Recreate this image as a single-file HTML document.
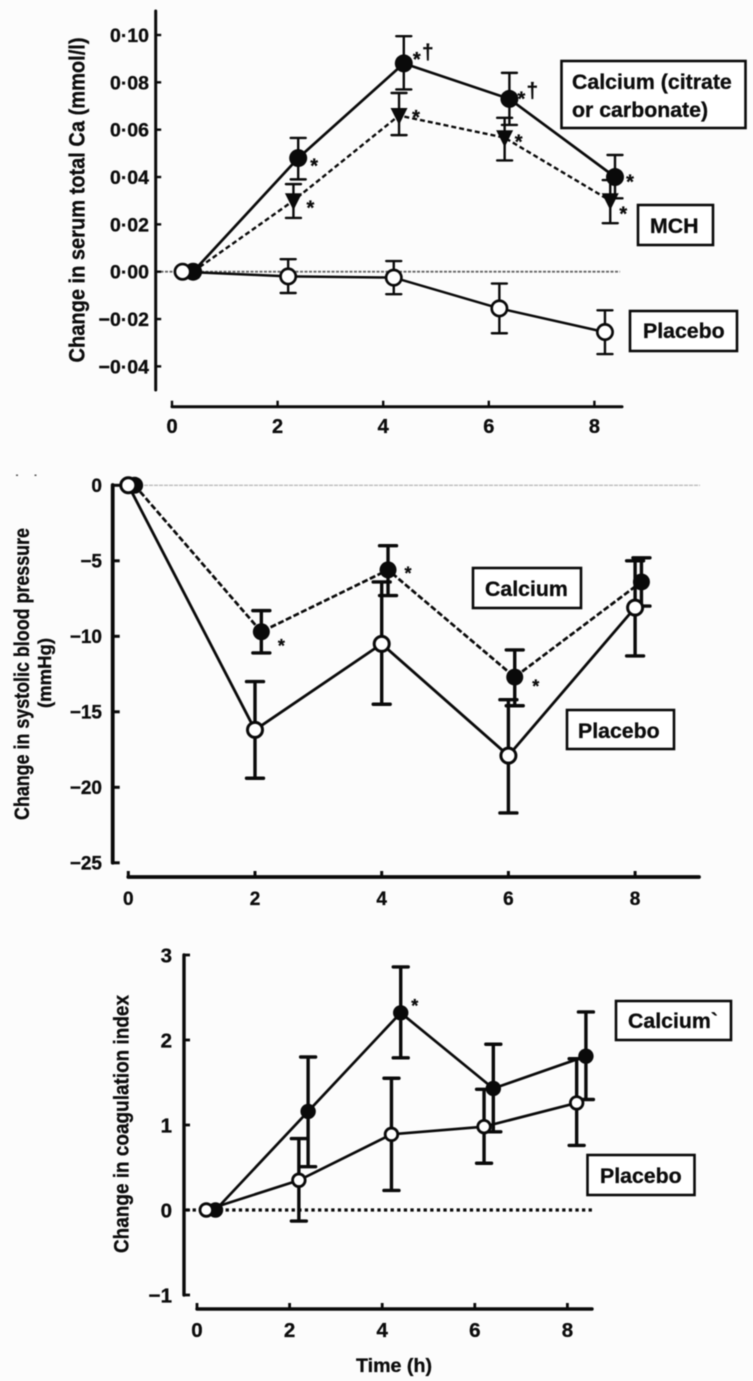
<!DOCTYPE html>
<html lang="en">
<head>
<meta charset="utf-8">
<title>Serum calcium, blood pressure and coagulation index over time</title>
<style>
html,body{margin:0;padding:0;background:#fcfcfc;}
body{width:753px;height:1381px;overflow:hidden;}
svg{display:block;filter:blur(0.55px);}
text{font-family:"Liberation Sans",sans-serif;font-weight:bold;fill:#0c0c0c;stroke:#0c0c0c;stroke-width:0.3px;}
</style>
</head>
<body>
<svg id="chart" xmlns="http://www.w3.org/2000/svg" width="753" height="1381" viewBox="0 0 753 1381">
<rect x="0" y="0" width="753" height="1381" fill="#fcfcfc"/>
<rect x="16" y="474.5" width="2" height="1.5" fill="#555"/>
<rect x="34.5" y="474.5" width="2" height="1.5" fill="#555"/>
</svg>
<script>
// ---------- Panel A: serum total Ca ----------
const caTicksY = [0.10, 0.08, 0.06, 0.04, 0.02, 0, -0.02, -0.04];
const caTickLabelsY = ['0·10', '0·08', '0·06', '0·04', '0·02', '0·00', '−0·02', '−0·04'];
const caTicksX = [0, 2, 4, 6, 8];
const caTimeCalcium = [0.4, 2.39, 4.39, 6.39, 8.39];
const caCalcium = [0, 0.048, 0.088, 0.073, 0.040];
const caCalciumHi = [0, 0.0565, 0.0995, 0.084, 0.0493];
const caCalciumLo = [0, 0.039, 0.077, 0.062, 0.031];
const caTimeMch = [0.4, 2.3, 4.3, 6.3, 8.3];
const caMch = [0, 0.030, 0.066, 0.0566, 0.030];
const caMchHi = [0, 0.037, 0.0755, 0.065, 0.0387];
const caMchLo = [0, 0.0227, 0.0577, 0.047, 0.0205];
const caTimePlacebo = [0.2, 2.2, 4.2, 6.2, 8.2];
const caPlacebo = [0, -0.002, -0.0025, -0.0155, -0.0255];
const caPlaceboHi = [0, 0.0053, 0.0045, -0.005, -0.0163];
const caPlaceboLo = [0, -0.009, -0.0095, -0.026, -0.0348];

// ---------- Panel B: systolic blood pressure ----------
const bpTicksY = [0, -5, -10, -15, -20, -25];
const bpTickLabelsY = ['0', '−5', '−10', '−15', '−20', '−25'];
const bpTicksX = [0, 2, 4, 6, 8];
const bpTimeCalcium = [0.1, 2.1, 4.1, 6.1, 8.1];
const bpCalcium = [0, -9.7, -5.6, -12.7, -6.4];
const bpCalciumHi = [0, -8.3, -4.0, -10.9, -4.8];
const bpCalciumLo = [0, -11.1, -7.3, -14.6, -8.0];
const bpTimePlacebo = [0, 2, 4, 6, 8];
const bpPlacebo = [0, -16.2, -10.5, -17.9, -8.1];
const bpPlaceboHi = [0, -13.0, -6.4, -14.2, -5.0];
const bpPlaceboLo = [0, -19.4, -14.5, -21.7, -11.3];

// ---------- Panel C: coagulation index ----------
const coTicksY = [3, 2, 1, 0, -1];
const coTickLabelsY = ['3', '2', '1', '0', '−1'];
const coTicksX = [0, 2, 4, 6, 8];
const coTimeCalcium = [0.4, 2.4, 4.4, 6.4, 8.4];
const coCalcium = [0, 1.16, 2.32, 1.43, 1.81];
const coCalciumHi = [0, 1.80, 2.86, 1.95, 2.33];
const coCalciumLo = [0, 0.51, 1.79, 0.92, 1.30];
const coTimePlacebo = [0.2, 2.2, 4.2, 6.2, 8.2];
const coPlacebo = [0, 0.35, 0.89, 0.98, 1.26];
const coPlaceboHi = [0, 0.84, 1.55, 1.42, 1.78];
const coPlaceboLo = [0, -0.13, 0.23, 0.55, 0.76];

const NS = 'http://www.w3.org/2000/svg';
const svg = document.getElementById('chart');

function mk(parent, tag, attrs, txt) {
  const el = document.createElementNS(NS, tag);
  for (const k in attrs) el.setAttribute(k, attrs[k]);
  if (txt !== undefined) el.textContent = txt;
  parent.appendChild(el);
  return el;
}
function group(name) {
  const g = mk(svg, 'g', {});
  
  
  return g;
}
function line(parent, x1, y1, x2, y2, w, name, extra) {
  const el = mk(parent, 'line', Object.assign({x1: x1, y1: y1, x2: x2, y2: y2, stroke: '#0a0a0a', 'stroke-width': w}, extra || {}));
  
  
  return el;
}
function label(parent, x, y, size, anchor, str, name, extra) {
  const el = mk(parent, 'text', Object.assign({x: x, y: y, 'font-size': size, 'text-anchor': anchor}, extra || {}), str);
  
  
  return el;
}
function axes(g, p) {
  line(g, p.axisX, p.axisTop, p.axisX, p.axisBottom, p.axisW, 'y-axis', {'stroke-linecap': 'round'});
  line(g, p.x(0), p.axisY, p.axisRight, p.axisY, p.axisW, 'x-axis', {'stroke-linecap': 'round'});
  p.ticksY.forEach(function (v, i) {
    line(g, p.axisX, p.y(v), p.axisX + p.tickLen, p.y(v), p.tickW, 'y-tick');
    label(g, p.labelRight, p.y(v) + p.fontSize * 0.36, p.fontSize, 'end', p.labelsY[i], 'y-tick-label');
  });
  p.ticksX.forEach(function (v) {
    line(g, p.x(v), p.axisY, p.x(v), p.axisY - 6, p.tickW, 'x-tick');
    label(g, p.x(v), p.xLabelY, p.xFontSize, 'middle', String(v), 'x-tick-label');
  });
}
function connect(g, p, xs, ys, w, dash, name) {
  const pts = xs.map(function (t, i) { return p.x(t).toFixed(1) + ',' + p.y(ys[i]).toFixed(1); }).join(' ');
  const el = mk(g, 'polyline', {points: pts, fill: 'none', stroke: '#0a0a0a', 'stroke-width': w, 'stroke-dasharray': dash || 'none'});
  
  
}
function errors(g, p, xs, hi, lo, w, cap, name) {
  xs.forEach(function (t, i) {
    if (hi[i] === lo[i]) return;
    const x = p.x(t);
    line(g, x, p.y(hi[i]), x, p.y(lo[i]), w, name + '-error-bar');
    line(g, x - cap, p.y(hi[i]), x + cap, p.y(hi[i]), w, name + '-error-cap-upper', {'stroke-linecap': 'round'});
    line(g, x - cap, p.y(lo[i]), x + cap, p.y(lo[i]), w, name + '-error-cap-lower', {'stroke-linecap': 'round'});
  });
}
function points(g, p, xs, ys, kind, r, name, sw) {
  xs.forEach(function (t, i) {
    const x = p.x(t), y = p.y(ys[i]);
    let el;
    if (kind === 'triangle' && i > 0) {
      el = mk(g, 'polygon', {points: (x - r) + ',' + (y - r + 1) + ' ' + (x + r) + ',' + (y - r + 1) + ' ' + x + ',' + (y + r + 1), fill: '#0a0a0a'});
    } else if (kind === 'open') {
      el = mk(g, 'circle', {cx: x, cy: y, r: r - sw / 2, fill: '#fff', stroke: '#0a0a0a', 'stroke-width': sw});
    } else {
      el = mk(g, 'circle', {cx: x, cy: y, r: r, fill: '#0a0a0a'});
    }
    
    
  });
}
function star(g, p, t, v, dx, dy, glyph, size) {
  const s = size || 20;
  const shift = glyph === '†' ? s * 0.36 : s * 0.58;
  label(g, p.x(t) + dx, p.y(v) + dy + shift, s, 'middle', glyph || '*', glyph === '†' ? 'dagger-marker' : 'significance-star');
}
function box(x, y, w, h, lines, size, name) {
  const g = group(name);
  const r = mk(g, 'rect', {x: x, y: y, width: w, height: h, fill: '#fff', stroke: '#0a0a0a', 'stroke-width': 2.6});
  
  
  lines.forEach(function (l) {
    label(g, l[0], l[1], size, 'start', l[2], name + '-text');
  });
}
function rotated(g, cx, cy, size, len, str, name) {
  label(g, cx, cy, size, 'middle', str, name, {transform: 'rotate(-90 ' + cx + ' ' + cy + ')', textLength: len, lengthAdjust: 'spacingAndGlyphs'});
}

// ---------- Draw panel A ----------
const pA = {
  x: function (t) { return 172 + 52.8 * t; },
  y: function (v) { return 271.7 - 2367 * v; },
  axisX: 155.7, axisTop: 11, axisBottom: 390, axisY: 406.7, axisRight: 622, axisW: 3, tickW: 2.4, tickLen: 5.5,
  ticksY: caTicksY, labelsY: caTickLabelsY, ticksX: caTicksX, labelRight: 149, fontSize: 19.5, xFontSize: 20, xLabelY: 433
};
const gA = group('panel-serum-calcium');
mk(gA, 'line', {x1: 156, y1: pA.y(0), x2: 620, y2: pA.y(0), stroke: '#666', 'stroke-width': 1.8, 'stroke-dasharray': '3 1.5'});


axes(gA, pA);
rotated(gA, 84.5, 200, 22, 325, 'Change in serum total Ca (mmol/l)', 'y-axis-title');
connect(gA, pA, caTimePlacebo, caPlacebo, 2.5, null, 'placebo-line');
connect(gA, pA, caTimeMch, caMch, 2.4, '5 3', 'mch-line');
connect(gA, pA, caTimeCalcium, caCalcium, 2.7, null, 'calcium-line');
errors(gA, pA, caTimePlacebo, caPlaceboHi, caPlaceboLo, 2.4, 7.5, 'placebo');
errors(gA, pA, caTimeMch, caMchHi, caMchLo, 2.4, 7.5, 'mch');
errors(gA, pA, caTimeCalcium, caCalciumHi, caCalciumLo, 2.4, 7.5, 'calcium');
points(gA, pA, caTimeCalcium, caCalcium, 'filled', 9, 'calcium');
points(gA, pA, caTimeMch, caMch, 'triangle', 8.5, 'mch');
points(gA, pA, caTimePlacebo, caPlacebo, 'open', 9, 'placebo', 2.7);
star(gA, pA, caTimeCalcium[1], caCalcium[1], 16, 3);
star(gA, pA, caTimeCalcium[2], caCalcium[2], 13, -9);
star(gA, pA, caTimeCalcium[2], caCalcium[2], 24, -12, '†', 21);
star(gA, pA, caTimeCalcium[3], caCalcium[3], 12, -5);
star(gA, pA, caTimeCalcium[3], caCalcium[3], 23, -9, '†', 21);
star(gA, pA, caTimeCalcium[4], caCalcium[4], 15, 0);
star(gA, pA, caTimeMch[1], caMch[1], 17, 2);
star(gA, pA, caTimeMch[2], caMch[2], 17, -3);
star(gA, pA, caTimeMch[3], caMch[3], 14, -1);
star(gA, pA, caTimeMch[4], caMch[4], 13, 8);
box(561.5, 61, 184, 67, [[572, 89, 'Calcium (citrate'], [572, 117, 'or carbonate)']], 21.3, 'legend-calcium-citrate-carbonate');
box(638, 205, 75, 40, [[650, 233, 'MCH']], 21.3, 'legend-mch');
box(630, 311, 107, 40, [[643, 338, 'Placebo']], 21.3, 'legend-placebo-top');

// ---------- Draw panel B ----------
const pB = {
  x: function (t) { return 128.3 + 63.35 * t; },
  y: function (v) { return 485.3 - 15.1 * v; },
  axisX: 112.7, axisTop: 485, axisBottom: 862.7, axisY: 877, axisRight: 699, axisW: 3.8, tickW: 3, tickLen: 7,
  ticksY: bpTicksY, labelsY: bpTickLabelsY, ticksX: bpTicksX, labelRight: 102, fontSize: 19, xFontSize: 19, xLabelY: 905
};
const gB = group('panel-systolic-blood-pressure');
mk(gB, 'line', {x1: 114, y1: pB.y(0), x2: 700, y2: pB.y(0), stroke: '#bbb', 'stroke-width': 1.3, 'stroke-dasharray': '4 1'});


axes(gB, pB);
rotated(gB, 29, 674, 21, 292, 'Change in systolic blood pressure', 'y-axis-title-line-one');
rotated(gB, 51, 673, 18, 70, '(mmHg)', 'y-axis-title-line-two');
connect(gB, pB, bpTimePlacebo, bpPlacebo, 2.8, null, 'placebo-line');
connect(gB, pB, bpTimeCalcium, bpCalcium, 2.7, '6 2.5', 'calcium-line');
errors(gB, pB, bpTimePlacebo, bpPlaceboHi, bpPlaceboLo, 3.4, 8.5, 'placebo');
errors(gB, pB, bpTimeCalcium, bpCalciumHi, bpCalciumLo, 3.4, 8.5, 'calcium');
points(gB, pB, bpTimeCalcium, bpCalcium, 'filled', 8.5, 'calcium');
points(gB, pB, bpTimePlacebo, bpPlacebo, 'open', 9, 'placebo', 3);
star(gB, pB, bpTimeCalcium[1], bpCalcium[1], 20, 10, '*', 18);
star(gB, pB, bpTimeCalcium[2], bpCalcium[2], 20, -1, '*', 18);
star(gB, pB, bpTimeCalcium[3], bpCalcium[3], 21, 5, '*', 18);
box(473, 568, 108, 40, [[485, 596, 'Calcium']], 21.3, 'legend-calcium-middle');
box(567, 710, 107, 39, [[578, 738, 'Placebo']], 21.3, 'legend-placebo-middle');

// ---------- Draw panel C ----------
const pC = {
  x: function (t) { return 197 + 46.3 * t; },
  y: function (v) { return 1210 - 85 * v; },
  axisX: 184, axisTop: 955, axisBottom: 1295, axisY: 1309, axisRight: 592, axisW: 3.4, tickW: 2.8, tickLen: 6,
  ticksY: coTicksY, labelsY: coTickLabelsY, ticksX: coTicksX, labelRight: 172, fontSize: 20.5, xFontSize: 20.5, xLabelY: 1337
};
const gC = group('panel-coagulation-index');
mk(gC, 'line', {x1: 186, y1: pC.y(0), x2: 592, y2: pC.y(0), stroke: '#0a0a0a', 'stroke-width': 3.2, 'stroke-dasharray': '3.3 3.3'});


axes(gC, pC);
rotated(gC, 128.5, 1124, 21.5, 258, 'Change in coagulation index', 'y-axis-title');
label(gC, 394, 1372, 19.5, 'middle', 'Time (h)', 'x-axis-title', {textLength: 76, lengthAdjust: 'spacingAndGlyphs'});
connect(gC, pC, coTimePlacebo, coPlacebo, 2.7, null, 'placebo-line');
connect(gC, pC, coTimeCalcium, coCalcium, 2.7, null, 'calcium-line');
errors(gC, pC, coTimePlacebo, coPlaceboHi, coPlaceboLo, 3.4, 7.5, 'placebo');
errors(gC, pC, coTimeCalcium, coCalciumHi, coCalciumLo, 3.4, 7.5, 'calcium');
points(gC, pC, coTimeCalcium, coCalcium, 'filled', 7.7, 'calcium');
points(gC, pC, coTimePlacebo, coPlacebo, 'open', 7.7, 'placebo', 2.8);
star(gC, pC, coTimeCalcium[2], coCalcium[2], 14, -11, '*', 18);
box(616, 1001, 115, 39, [[628, 1028, 'Calcium`']], 21.3, 'legend-calcium-bottom');
box(587.5, 1155, 107, 40, [[600, 1183, 'Placebo']], 21.3, 'legend-placebo-bottom');
</script>
</body>
</html>
